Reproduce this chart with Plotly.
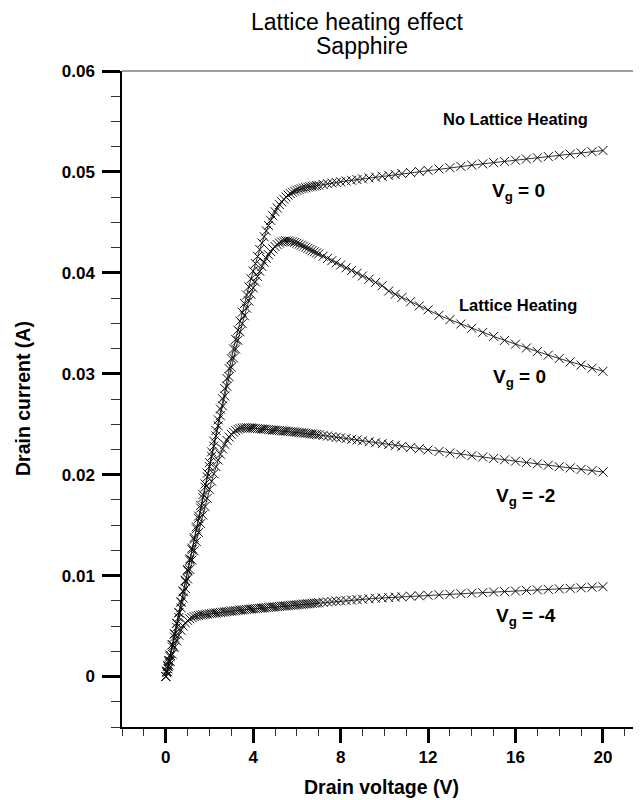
import plotly.graph_objects as go

# Drain voltage sweep points (V), shared by all curves
drain_voltage = [
    0, 0.05, 0.1, 0.15, 0.2, 0.3, 0.4, 0.5, 0.6, 0.7, 0.8, 0.9, 1.0,
    1.1, 1.2, 1.3, 1.4, 1.5, 1.6, 1.7, 1.8, 1.9, 2.0,
    2.1, 2.2, 2.3, 2.4, 2.5, 2.6, 2.7, 2.8, 2.9, 3.0,
    3.1, 3.2, 3.3, 3.4, 3.5, 3.6, 3.7, 3.8, 3.9, 4.0,
    4.1, 4.2, 4.3, 4.4, 4.5, 4.6, 4.7, 4.8, 4.9, 5.0,
    5.1, 5.2, 5.3, 5.4, 5.5, 5.6, 5.7, 5.8, 5.9, 6.0,
    6.1, 6.2, 6.3, 6.4, 6.5, 6.6, 6.7, 6.8, 6.9, 7.0,
    7.2, 7.4, 7.6, 7.8, 8.0, 8.25, 8.5, 8.75, 9.0, 9.3, 9.6, 9.9,
    10.2, 10.5, 10.8, 11.2, 11.6, 12.0, 12.5, 13.0, 13.5, 14.0, 14.5,
    15.0, 15.5, 16.0, 16.5, 17.0, 17.5, 18.0, 18.5, 19.0, 19.5, 20.0,
]

# Drain current (A): no lattice heating, Vg = 0
current_nolh_vg0 = [
    0, 0.00053, 0.00106, 0.00159, 0.00212, 0.00318, 0.00424, 0.0053, 0.00636, 0.00742, 0.00848, 0.00954, 0.0106,
    0.01166, 0.01272, 0.01378, 0.01484, 0.0159, 0.01696, 0.01802, 0.01908, 0.02014, 0.0212,
    0.02226, 0.02332, 0.02438, 0.02544, 0.0265, 0.02752, 0.02853, 0.02953, 0.03052, 0.0315,
    0.03246, 0.0334, 0.03432, 0.03522, 0.0361, 0.03696, 0.0378, 0.03862, 0.03941, 0.04018,
    0.04092, 0.04163, 0.04231, 0.04296, 0.04358, 0.04416, 0.0447, 0.0452, 0.04565, 0.04606,
    0.04643, 0.04676, 0.04705, 0.0473, 0.04752, 0.0477, 0.04785, 0.04798, 0.04809, 0.04818,
    0.04826, 0.04833, 0.04839, 0.04844, 0.04849, 0.04853, 0.04857, 0.04861, 0.04865, 0.04869,
    0.04876, 0.04883, 0.0489, 0.04896, 0.04902, 0.0491, 0.04917, 0.04924, 0.04931, 0.0494, 0.04948, 0.04957,
    0.04966, 0.04974, 0.04983, 0.04994, 0.05005, 0.05016, 0.05029, 0.05042, 0.05055, 0.05068, 0.0508,
    0.05092, 0.05104, 0.05116, 0.05128, 0.0514, 0.05152, 0.05164, 0.05176, 0.05188, 0.052, 0.05212,
]

# Drain current (A): lattice heating, Vg = 0
current_lh_vg0 = [
    0, 0.000525, 0.00105, 0.00158, 0.0021, 0.00315, 0.0042, 0.00525, 0.0063, 0.00735, 0.0084, 0.00944, 0.01048,
    0.01152, 0.01256, 0.0136, 0.01464, 0.01567, 0.0167, 0.01773, 0.01876, 0.01978, 0.0208,
    0.02182, 0.02283, 0.02384, 0.02484, 0.02584, 0.02682, 0.0278, 0.02876, 0.02971, 0.03065,
    0.03156, 0.03245, 0.03332, 0.03416, 0.03497, 0.03575, 0.0365, 0.03721, 0.03788, 0.03851,
    0.0391, 0.03965, 0.04016, 0.04063, 0.04106, 0.04145, 0.0418, 0.04211, 0.04238, 0.04261,
    0.0428, 0.04295, 0.04306, 0.04313, 0.04316, 0.04316, 0.04313, 0.04308, 0.04301, 0.04293,
    0.04284, 0.04274, 0.04264, 0.04253, 0.04242, 0.04231, 0.0422, 0.04209, 0.04198, 0.04187,
    0.04165, 0.04143, 0.04121, 0.04099, 0.04077, 0.0405, 0.04023, 0.03996, 0.03969, 0.03937, 0.03905, 0.03873,
    0.0382, 0.03788, 0.03756, 0.03714, 0.03673, 0.03633, 0.0358, 0.03536, 0.03493, 0.03451, 0.0341,
    0.0337, 0.03331, 0.03293, 0.03256, 0.0322, 0.03185, 0.03151, 0.03118, 0.03086, 0.03055, 0.03025,
]

# Drain current (A): Vg = -2
current_vgm2 = [
    0, 0.00049, 0.00098, 0.00147, 0.00196, 0.00294, 0.00391, 0.00488, 0.00585, 0.00681, 0.00777, 0.00872, 0.00967,
    0.01061, 0.01154, 0.01246, 0.01337, 0.01427, 0.01515, 0.01601, 0.01685, 0.01766, 0.01855,
    0.01935, 0.0201, 0.0208, 0.02145, 0.02203, 0.02255, 0.02301, 0.0234, 0.02373, 0.024,
    0.02421, 0.02437, 0.02449, 0.02457, 0.02462, 0.02464, 0.02465, 0.02464, 0.02463, 0.02461,
    0.02459, 0.02457, 0.02455, 0.02453, 0.02451, 0.02449, 0.02447, 0.02445, 0.02443, 0.02441,
    0.02439, 0.02437, 0.02435, 0.02433, 0.02431, 0.02429, 0.02427, 0.02425, 0.02423, 0.02421,
    0.02418, 0.02416, 0.02413, 0.02411, 0.02408, 0.02405, 0.02403, 0.024, 0.02398, 0.02395,
    0.02389, 0.02383, 0.02377, 0.02371, 0.02365, 0.02358, 0.0235, 0.02343, 0.02335, 0.02326, 0.02317, 0.02308,
    0.02299, 0.0229, 0.02281, 0.02269, 0.02257, 0.02245, 0.0223, 0.02216, 0.02202, 0.02188, 0.02175,
    0.02161, 0.02148, 0.02134, 0.02121, 0.02107, 0.02094, 0.0208, 0.02067, 0.02053, 0.0204, 0.02027,
]

# Drain current (A): Vg = -4
current_vgm4 = [
    0, 0.00038, 0.00076, 0.00113, 0.0015, 0.00222, 0.0029, 0.00353, 0.0041, 0.00459, 0.005, 0.00532, 0.00556,
    0.00573, 0.00585, 0.00594, 0.006, 0.00605, 0.00609, 0.00612, 0.00615, 0.00618, 0.00622,
    0.00625, 0.00628, 0.0063, 0.00633, 0.00635, 0.00638, 0.0064, 0.00643, 0.00645, 0.00648,
    0.0065, 0.00653, 0.00655, 0.00658, 0.0066, 0.00662, 0.00664, 0.00667, 0.00669, 0.00671,
    0.00673, 0.00675, 0.00677, 0.00679, 0.00681, 0.00683, 0.00685, 0.00687, 0.00689, 0.00691,
    0.00693, 0.00695, 0.00697, 0.00699, 0.00701, 0.00703, 0.00705, 0.00707, 0.00709, 0.00711,
    0.00713, 0.00715, 0.00717, 0.00719, 0.00721, 0.00723, 0.00725, 0.00727, 0.00729, 0.00731,
    0.00735, 0.00739, 0.00743, 0.00747, 0.0075, 0.00754, 0.00758, 0.00762, 0.00766, 0.0077, 0.00775, 0.00779,
    0.00783, 0.00787, 0.00791, 0.00796, 0.008, 0.00805, 0.0081, 0.00815, 0.00821, 0.00826, 0.00831,
    0.00837, 0.00842, 0.00847, 0.00853, 0.00858, 0.00863, 0.00869, 0.00874, 0.00879, 0.00885, 0.0089,
]

series = [
    ("No lattice heating, Vg = 0", current_nolh_vg0),
    ("Lattice heating, Vg = 0", current_lh_vg0),
    ("Vg = -2", current_vgm2),
    ("Vg = -4", current_vgm4),
]

y_ticks = [0, 0.01, 0.02, 0.03, 0.04, 0.05, 0.06]
y_tick_text = ["0", "0.01", "0.02", "0.03", "0.04", "0.05", "0.06"]
x_ticks = [0, 4, 8, 12, 16, 20]
x_tick_text = ["0", "4", "8", "12", "16", "20"]

FONT = "Liberation Sans, Arial, Helvetica, sans-serif"
OFF = 8  # default body margin of the html page
W, H = 641, 800
# plot area in window pixels: left 122, top 71, right 641, bottom 727
PW, PH = 519, 656
L, T = 122 - OFF, 71 - OFF
R = W - L - PW
B = H - T - PH


def px(xp, yp):
    xf, yf = xp - OFF, yp - OFF
    return (xf - L) / PW, (T + PH - yf) / PH


fig = go.Figure()
for name, vals in series:
    fig.add_trace(go.Scatter(
        x=drain_voltage, y=vals, name=name, mode="lines+markers",
        line=dict(color="black", width=0.8),
        marker=dict(symbol="x-thin", size=9, line=dict(width=1, color="#111111")),
        showlegend=False,
    ))

annos = []


def add_text(text, xp, yp, size, bold=True, angle=0):
    ax, ay = px(xp, yp)
    annos.append(dict(
        text=text, x=ax, y=ay, xref="paper", yref="paper",
        xanchor="center", yanchor="middle", showarrow=False, textangle=angle,
        font=dict(family=FONT, size=size, color="black",
                  weight="bold" if bold else "normal"),
    ))


add_text("Lattice heating effect", 357, 22, 23, bold=False)
add_text("Sapphire", 362, 46, 23, bold=False)
add_text("No Lattice Heating", 515, 119, 16.5)
add_text("V<sub>g</sub> = 0", 518, 192, 19)
add_text("Lattice Heating", 518, 305, 16.5)
add_text("V<sub>g</sub> = 0", 519, 378, 19)
add_text("V<sub>g</sub> = -2", 525, 497, 19)
add_text("V<sub>g</sub> = -4", 526, 617, 19)
add_text("Drain voltage (V)", 381, 787, 19.5)
add_text("Drain current (A)", 23, 399, 19.5, angle=-90)

fig.update_layout(
    width=W, height=H,
    margin=dict(l=L, r=R, t=T, b=B, pad=0),
    paper_bgcolor="white", plot_bgcolor="white",
    annotations=annos,
    shapes=[dict(type="line", xref="paper", yref="paper", x0=0, x1=1, y0=1, y1=1,
                 line=dict(color="#808080", width=1.5))],
)

fig.update_xaxes(
    range=[-2, 21.74], showgrid=False, zeroline=False,
    showline=True, linecolor="black", linewidth=1.5,
    tickmode="array", tickvals=x_ticks, ticktext=x_tick_text,
    ticks="outside", ticklen=14, tickwidth=2.5, tickcolor="black",
    tickfont=dict(family=FONT, size=17, color="black", weight="bold"),
    ticklabelstandoff=0,
    minor=dict(tickmode="linear", tick0=0, dtick=1, ticks="outside", ticklen=7,
               tickwidth=1, tickcolor="#333333", showgrid=False),
)
fig.update_yaxes(
    range=[-0.005, 0.06], showgrid=False, zeroline=False,
    showline=True, linecolor="black", linewidth=1.5,
    tickmode="array", tickvals=y_ticks, ticktext=y_tick_text,
    ticks="outside", ticklen=18, tickwidth=2.5, tickcolor="black",
    tickfont=dict(family=FONT, size=17, color="black", weight="bold"),
    ticklabelstandoff=4,
    minor=dict(tickmode="linear", tick0=0, dtick=0.0025, ticks="outside", ticklen=9,
               tickwidth=1, tickcolor="#333333", showgrid=False),
)

fig.write_html("out.html")
